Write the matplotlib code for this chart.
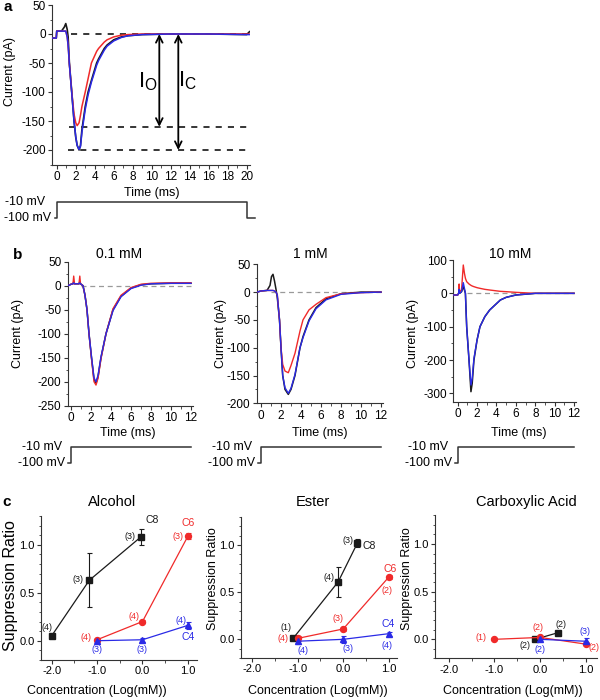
import matplotlib
matplotlib.use('Agg')
import matplotlib.pyplot as plt
from matplotlib.ticker import MultipleLocator, FormatStrFormatter

plt.rcParams['font.family'] = ['Liberation Sans', 'DejaVu Sans']
plt.rcParams['mathtext.default'] = 'regular'
plt.rcParams['axes.unicode_minus'] = False

RED = '#f02a2a'
BLUE = '#2a2ae6'
BLACK = '#1a1a1a'

# ---- panel a: current traces (pA) vs time (ms)
a_time = [-0.5, -0.05, 0.0, 0.5, 0.8, 0.95, 1.1, 1.2, 1.33, 1.58, 1.82, 2.0, 2.15, 2.35, 2.5, 2.65,
          3.0, 3.3, 3.65, 4.2, 4.4, 5.0, 5.3, 6.0, 6.8, 7.5, 9.0, 12.0, 16.0, 20.0, 20.3]
a_black = [-7, -7, 5, 5, 12, 18, 8, -5, -50, -100, -150, -178, -192, -200, -192, -165,
           -125, -100, -80, -50, -43, -25, -19, -10, -5, -3, -1, 0, 0, -1, 4]
a_blue = [-7, -7, 5, 5, 5, 5, -5, -20, -52, -102, -150, -177, -192, -199, -194, -170,
          -130, -105, -83, -54, -46, -28, -21, -12, -6, -3, -1, 0, 0, -1, -1]
a_red = [-7, -7, 5, 5, 5, 5, -5, -20, -52, -100, -138, -153, -158, -153, -140, -125,
         -100, -77, -50, -30, -25, -14, -10, -5, -2, -1, 0, 0, 0, 0, 0]
a_levels = [0, -160, -200]
a_io = -160
a_ic = -200

# voltage protocol (mV)
a_step_t = [-0.2, 0, 0, 20, 20, 20.9]
a_step_v = [-100, -100, -10, -10, -100, -100]
b_step_t = [-0.3, 0, 0, 12]
b_step_v = [-100, -100, -10, -10]

# ---- panel b: three concentrations
b_titles = ['0.1 mM', '1 mM', '10 mM']
b1_time = [-0.3, 0.0, 0.2, 0.27, 0.35, 0.8, 0.88, 0.95, 1.2, 1.4, 1.6, 1.8, 2.05, 2.3, 2.5, 2.7,
           3.0, 3.5, 4.2, 5.0, 6.0, 7.0, 8.0, 10.0, 12.0]
b1_black = [0, 3, 4, 8, 4, 4, 8, 4, 0, -20, -50, -100, -150, -195, -203, -190,
            -150, -100, -50, -22, -5, 2, 4, 5, 5]
b1_red = [0, 3, 4, 20, 4, 4, 20, 4, 0, -20, -50, -100, -152, -200, -207, -193,
          -152, -100, -48, -20, -4, 3, 5, 6, 6]
b1_blue = [0, 3, 4, 6, 4, 4, 6, 4, 0, -20, -50, -100, -148, -192, -200, -187,
           -148, -100, -52, -23, -6, 1, 4, 5, 5]

b2_time = [-0.4, 0.0, 0.6, 0.9, 1.05, 1.2, 1.35, 1.5, 1.63, 1.85, 2.0, 2.17, 2.4, 2.73, 3.0, 3.4,
           3.9, 4.2, 4.8, 5.5, 6.5, 8.0, 10.0, 12.0]
b2_black = [0, 2, 3, 12, 28, 32, 20, 5, -10, -50, -100, -150, -175, -184, -175, -150,
            -100, -80, -50, -28, -12, -3, 0, 0]
b2_red = [0, 2, 3, 3, 3, 3, 2, 0, -5, -50, -100, -130, -142, -145, -132, -110,
          -70, -50, -32, -22, -10, -3, -1, 0]
b2_blue = [0, 2, 3, 3, 3, 3, 2, 0, -5, -50, -100, -150, -172, -182, -173, -148,
           -100, -82, -52, -30, -14, -4, -1, 0]

b3_time = [-0.5, 0.0, 0.1, 0.15, 0.2, 0.4, 0.58, 0.7, 0.8, 0.93, 1.17, 1.37, 1.5, 1.68, 2.0, 2.3,
           2.8, 3.3, 4.4, 5.0, 6.0, 8.0, 10.0, 12.0]
b3_black = [-5, -5, 0, 10, 0, 5, 20, 10, 0, -100, -200, -295, -270, -200, -140, -100,
            -70, -50, -20, -12, -5, 0, 0, 0]
b3_red = [-5, -5, 0, 28, 5, 10, 85, 60, 45, 35, 28, 24, 22, 20, 17, 15,
          12, 10, 6, 5, 3, 0, 0, 0]
b3_blue = [-5, -5, 0, 12, 0, 5, 32, 15, 0, -100, -200, -275, -255, -195, -140, -100,
           -70, -50, -20, -12, -5, 0, 0, 0]

# ---- panel c: suppression ratio vs log concentration
c_titles = ['Alcohol', 'Ester', 'Carboxylic Acid']

alc_c8_x = [-2.0, -1.17, -0.04]
alc_c8_y = [0.05, 0.63, 1.08]
alc_c8_err = [0.0, 0.28, 0.08]
alc_c8_n = [4, 3, 3]
alc_c6_x = [-1.0, 0.0, 1.0]
alc_c6_y = [0.01, 0.20, 1.09]
alc_c6_err = [0.02, 0.02, 0.03]
alc_c6_n = [4, 4, 3]
alc_c4_x = [-1.0, 0.0, 1.0]
alc_c4_y = [0.0, 0.01, 0.16]
alc_c4_err = [0.03, 0.02, 0.04]
alc_c4_n = [3, 3, 4]

est_c8_x = [-1.1, -0.11, 0.31]
est_c8_y = [0.01, 0.61, 1.02]
est_c8_err = [0.0, 0.16, 0.04]
est_c8_n = [1, 4, 3]
est_c6_x = [-1.0, 0.0, 1.0]
est_c6_y = [0.01, 0.11, 0.66]
est_c6_err = [0.03, 0.02, 0.02]
est_c6_n = [4, 3, 2]
est_c4_x = [-1.0, 0.0, 1.0]
est_c4_y = [-0.02, 0.0, 0.06]
est_c4_err = [0.03, 0.04, 0.02]
est_c4_n = [4, 3, 4]

acid_c8_x = [-0.11, 0.4]
acid_c8_y = [0.0, 0.07]
acid_c8_err = [0.0, 0.0]
acid_c8_n = [2, 2]
acid_c6_x = [-1.0, 0.0, 1.0]
acid_c6_y = [0.0, 0.02, -0.05]
acid_c6_err = [0.0, 0.0, 0.0]
acid_c6_n = [1, 2, 2]
acid_c4_x = [0.0, 1.0]
acid_c4_y = [0.0, -0.02]
acid_c4_err = [0.0, 0.03]
acid_c4_n = [2, 3]

W, H = 600, 700
fig = plt.figure(figsize=(6, 7), dpi=100)


def px_axes(x0, y0, x1, y1):
    return fig.add_axes([x0 / W, 1 - y1 / H, (x1 - x0) / W, (y1 - y0) / H])


def ptext(x, y, s, **kw):
    kw.setdefault('ha', 'center')
    kw.setdefault('va', 'center')
    fig.text(x / W, 1 - y / H, s, **kw)


def style(ax, xmaj, xmin, ymaj, ymin, size=8.5):
    for s in ['top', 'right']:
        ax.spines[s].set_visible(False)
    for s in ['left', 'bottom']:
        ax.spines[s].set_linewidth(0.8)
        ax.spines[s].set_color('#333333')
    ax.xaxis.set_major_locator(MultipleLocator(xmaj))
    ax.xaxis.set_minor_locator(MultipleLocator(xmin))
    ax.yaxis.set_major_locator(MultipleLocator(ymaj))
    ax.yaxis.set_minor_locator(MultipleLocator(ymin))
    ax.tick_params(which='major', direction='out', length=3, width=0.8, labelsize=size, pad=1.5,
                   color='#333333')
    ax.tick_params(which='minor', direction='out', length=1.8, width=0.6, color='#333333')


def protocol(x0, x1, y0, y1, xlim, ts, vs):
    ax = px_axes(x0, y0, x1, y1)
    ax.set_xlim(*xlim)
    ax.set_ylim(-140, 30)
    ax.axis('off')
    ax.plot(ts, vs, color='#333333', lw=1.1, clip_on=False)
    span = (xlim[1] - xlim[0]) / 12
    ax.text(ts[0] - 0.6 * span, -10, '-10 mV', ha='right', va='center', fontsize=9)
    ax.text(ts[0] - 0.25 * span, -100, '-100 mV', ha='right', va='center', fontsize=9)


# ---------------- panel a
ax = px_axes(52, 5, 250, 164.5)
ax.set_xlim(-0.5, 20.35)
ax.set_ylim(-225, 50)
style(ax, 2, 1, 50, 25)
for lv, start in zip(a_levels, [1.5, 1.3, 1.2]):
    ax.plot([start, 20.4], [lv, lv], color='k', lw=1.1, dashes=(4, 4), zorder=1)
ax.plot(a_time, a_black, color=BLACK, lw=1.2, zorder=2)
ax.plot(a_time, a_red, color=RED, lw=1.1, zorder=3)
ax.plot(a_time, a_blue, color=BLUE, lw=1.1, zorder=4)
ax.annotate('', xy=(10.8, a_io), xytext=(10.8, 0),
            arrowprops=dict(arrowstyle='<->', lw=1.3, color='k', shrinkA=0, shrinkB=0, mutation_scale=12))
ax.annotate('', xy=(12.8, a_ic), xytext=(12.8, 0),
            arrowprops=dict(arrowstyle='<->', lw=1.3, color='k', shrinkA=0, shrinkB=0, mutation_scale=12))
ax.text(9.6, -82, r'$\mathregular{I_O}$', fontsize=16, ha='center', va='center')
ax.text(13.8, -80, r'$\mathregular{I_C}$', fontsize=16, ha='center', va='center')
ptext(10, 72, 'Current (pA)', rotation=90, fontsize=9)
ptext(152, 193, 'Time (ms)', fontsize=9)
ptext(8, 7, 'a', fontsize=11, fontweight='bold')
protocol(52, 250, 195, 225, (-0.5, 20.35), a_step_t, a_step_v)

# ---------------- panel b
b_boxes = [(67.7, 261.7, 193, 405.7), (256.7, 264.3, 383, 403.3), (453, 260, 576, 401.7)]
b_xlims = [(-0.33, 12.2), (-0.43, 12.2), (-0.48, 12.2)]
b_ylims = [(-250, 50), (-200, 50), (-325, 100)]
b_ymaj = [50, 50, 100]
b_traces = [(b1_time, b1_black, b1_red, b1_blue),
            (b2_time, b2_black, b2_red, b2_blue),
            (b3_time, b3_black, b3_red, b3_blue)]
b_title_x = [119, 310, 510]
b_ylab_x = [18, 221, 413]
b_time_x = [128, 320, 519]

for i in range(3):
    x0, y0, x1, y1 = b_boxes[i]
    ax = px_axes(x0, y0, x1, y1)
    ax.set_xlim(*b_xlims[i])
    ax.set_ylim(*b_ylims[i])
    style(ax, 2, 1, b_ymaj[i], b_ymaj[i] / 2)
    t, k, r, bl = b_traces[i]
    ax.plot([1.0, 12], [0, 0], color='#9a9a9a', lw=0.9, dashes=(4, 3), zorder=1)
    ax.plot(t, k, color=BLACK, lw=1.1, zorder=2)
    ax.plot(t, r, color=RED, lw=1.0, zorder=3)
    ax.plot(t, bl, color=BLUE, lw=1.0, zorder=4)
    ptext(b_title_x[i], 254, b_titles[i], fontsize=10)
    ptext(b_ylab_x[i], 333, 'Current (pA)', rotation=90, fontsize=9)
    ptext(b_time_x[i], 433, 'Time (ms)', fontsize=9)
    protocol(x0, x1, 440, 470, b_xlims[i], b_step_t, b_step_v)
ptext(18, 255, 'b', fontsize=11, fontweight='bold')

# ---------------- panel c
c_boxes = [(40.7, 516, 197, 659.9), (240.7, 516.7, 397, 658.2), (435, 515.4, 597, 658.4)]
c_xlims = [(-2.24, 1.2), (-2.25, 1.18), (-2.3, 1.25)]
c_series = [
    [(alc_c8_x, alc_c8_y, alc_c8_err, alc_c8_n, BLACK, 's'),
     (alc_c6_x, alc_c6_y, alc_c6_err, alc_c6_n, RED, 'o'),
     (alc_c4_x, alc_c4_y, alc_c4_err, alc_c4_n, BLUE, '^')],
    [(est_c8_x, est_c8_y, est_c8_err, est_c8_n, BLACK, 's'),
     (est_c6_x, est_c6_y, est_c6_err, est_c6_n, RED, 'o'),
     (est_c4_x, est_c4_y, est_c4_err, est_c4_n, BLUE, '^')],
    [(acid_c8_x, acid_c8_y, acid_c8_err, acid_c8_n, BLACK, 's'),
     (acid_c6_x, acid_c6_y, acid_c6_err, acid_c6_n, RED, 'o'),
     (acid_c4_x, acid_c4_y, acid_c4_err, acid_c4_n, BLUE, '^')],
]
# pixel offsets of the (n) labels, per panel / series / point
n_offsets = [
    [[(-5, 8), (-11, 1), (-11, 1)], [(-11, 2), (-8, 5), (-10, 0)], [(0, -9), (0, -10), (-7, 5)]],
    [[(-7, 11), (-9, 4), (-9, 3)], [(-15, 0), (-5, 10), (-2, -13)], [(5, -9), (5, -9), (-2, -12)]],
    [[(-10, -6), (3, 8)], [(-13, 2), (-2, 10), (8, -3)], [(0, -10), (-1, 10)]],
]
# C8 / C6 / C4 names: (panel, series, point, dx, dy)
series_names = [
    (0, 0, 2, 12, 17, 'C8'), (0, 1, 2, 0, 13, 'C6'), (0, 2, 2, 0, -12, 'C4'),
    (1, 0, 2, 12, -3, 'C8'), (1, 1, 2, 1, 8, 'C6'), (1, 2, 2, -1, 10, 'C4'),
]
c_title_x = [112, 313, 526]
c_ylab_x = [11, 213, 407]
c_xlab_x = [97, 318, 513]
c_axes = []

for i in range(3):
    x0, y0, x1, y1 = c_boxes[i]
    ax = px_axes(x0, y0, x1, y1)
    c_axes.append(ax)
    ax.set_xlim(*c_xlims[i])
    ax.set_ylim(-0.2, 1.3)
    style(ax, 1, 0.5, 0.5, 0.1, size=8)
    ax.xaxis.set_major_formatter(FormatStrFormatter('%.1f'))
    ax.yaxis.set_major_formatter(FormatStrFormatter('%.1f'))
    for j, (xs, ys, es, ns, col, mk) in enumerate(c_series[i]):
        ax.errorbar(xs, ys, yerr=es, color=col, marker=mk, ms=4.3, lw=0.9, elinewidth=0.8,
                    capsize=1.8, capthick=0.8, clip_on=False)
        for k in range(len(xs)):
            dx, dy = n_offsets[i][j][k]
            ax.annotate('(%d)' % ns[k], (xs[k], ys[k]), xytext=(dx, dy), textcoords='offset pixels',
                        ha='center', va='center', fontsize=6.5, color=col)
    ptext(c_title_x[i], 502, c_titles[i], fontsize=10.5)
    ptext(c_ylab_x[i], 586 if i == 0 else 579, 'Suppression Ratio', rotation=90,
          fontsize=11.5 if i == 0 else 9)
    ptext(c_xlab_x[i], 691, 'Concentration (Log(mM))', fontsize=9)

for p, s, k, dx, dy, name in series_names:
    xs, ys, es, ns, col, mk = c_series[p][s]
    c_axes[p].annotate(name, (xs[k], ys[k]), xytext=(dx, dy), textcoords='offset pixels',
                       ha='center', va='center', fontsize=7.5, color=col)
ptext(7, 502, 'c', fontsize=11, fontweight='bold')

fig.savefig('out.png', dpi=100)
